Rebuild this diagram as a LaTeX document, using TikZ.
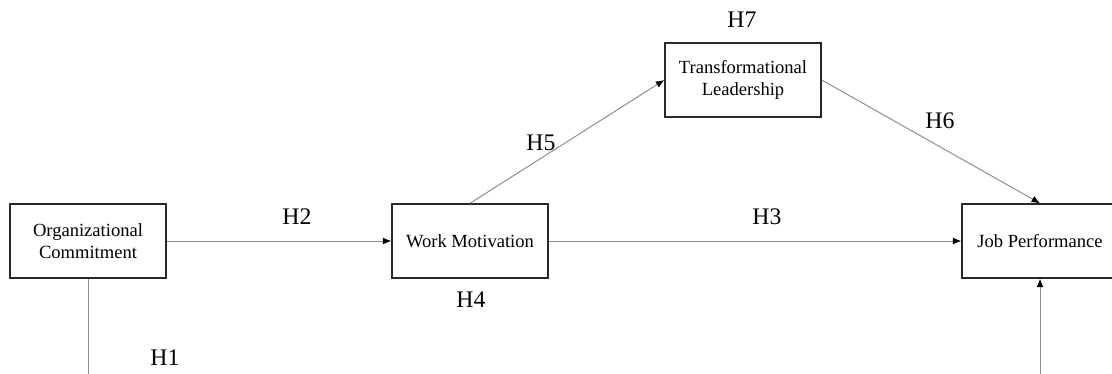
\documentclass[tikz,border=0pt]{standalone}
\usepackage{fontspec}
\setmainfont{Liberation Serif}
\usetikzlibrary{arrows.meta}
\definecolor{linegray}{RGB}{140,140,140}
\definecolor{boxline}{RGB}{40,40,40}
\tikzset{
  construct/.style={draw=boxline, line width=1pt, minimum width=3.9cm, minimum height=1.85cm,
    align=center, inner sep=2pt, font=\fontsize{13.2}{15.8}\selectfont},
  hyp/.style={font=\fontsize{16.9}{20}\selectfont},
  link/.style={draw=linegray, line width=0.7pt, -{Latex[black,length=6pt,width=5pt]}}
}
\begin{document}
\begin{tikzpicture}[x=0.025cm,y=-0.025cm]
        \useasboundingbox (0,0) rectangle (1112,374);
        %costrutti
        \node[construct] (oc) at (88,241) {Organizational\\Commitment};
        \node[construct] (wm) at (470,241) {Work Motivation};
        \node[construct] (tl) at (743,80) {Transformational\\Leadership};
        \node[construct] (jp) at (1040,241) {Job Performance};
        %relazioni
        \draw[link] (oc.east) -- (wm.west);
        \draw[link] (wm.east) -- (jp.west);
        \draw[link] (wm.north) -- (tl.west);
        \draw[link] (tl.east) -- (jp.north);
        \draw[link] (oc.south) -- ++(0,150) -| (jp.south);
        %ipotesi
        \node[hyp] (h1) at (165,358) {H1};
        \node[hyp] (h2) at (297,217) {H2};
        \node[hyp] (h3) at (767,217) {H3};
        \node[hyp] (h4) at (471,300) {H4};
        \node[hyp] (h5) at (541,143) {H5};
        \node[hyp] (h6) at (940,121) {H6};
        \node[hyp] (h7) at (742,20) {H7};
\end{tikzpicture}
\end{document}
